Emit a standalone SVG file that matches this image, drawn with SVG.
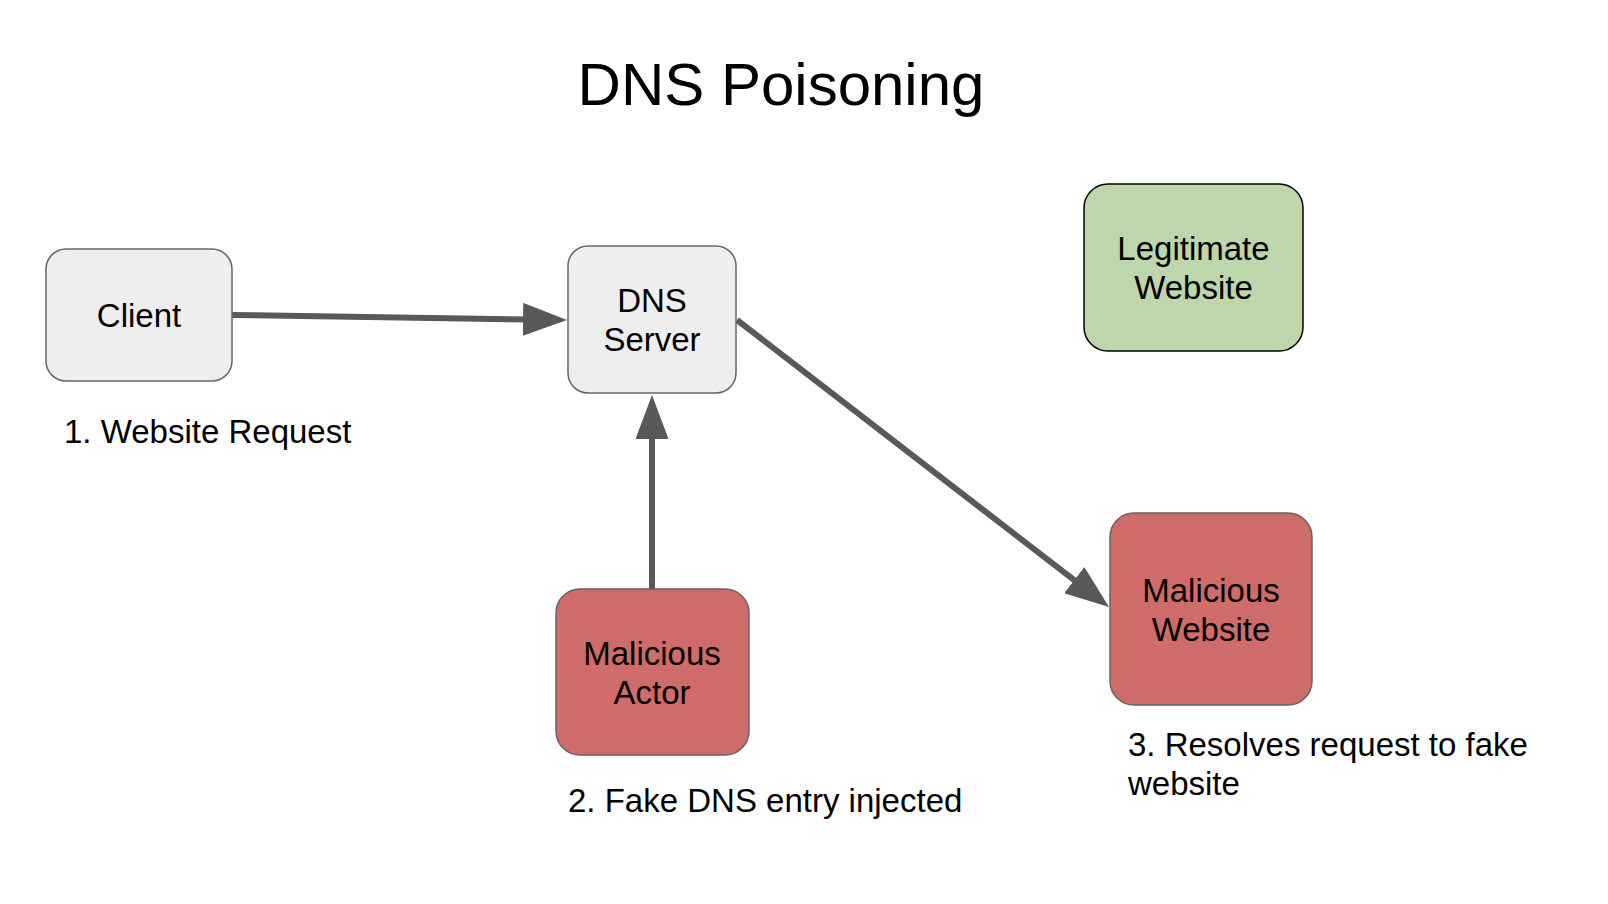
<svg xmlns="http://www.w3.org/2000/svg" width="1608" height="904" viewBox="0 0 1608 904">
  <style>
    text { font-family: "Liberation Sans", Arial, sans-serif; fill: #000000; }
    .title { font-size: 60px; text-anchor: middle; }
    .node-label { font-size: 33px; text-anchor: middle; }
    .note { font-size: 33px; }
    .gray { fill: #eeeeee; stroke: #666666; stroke-width: 1.5; }
    .red { fill: #cf6b69; stroke: #666666; stroke-width: 1.5; }
    .green { fill: #bdd6ab; stroke: #000000; stroke-width: 1.5; }
    .conn { stroke: #595959; stroke-width: 6; fill: none; marker-end: url(#arrow); }
  </style>
  <defs>
    <marker id="arrow" markerUnits="userSpaceOnUse" markerWidth="44" markerHeight="33" refX="14" refY="16.5" orient="auto">
      <path d="M0,0 L44,16.5 L0,33 z" fill="#595959"/>
    </marker>
  </defs>
  <rect width="1608" height="904" fill="#ffffff"/>

  <text class="title" x="781" y="105">DNS Poisoning</text>

  <g id="connectors">
    <line class="conn" x1="232" y1="315" x2="537" y2="319.6"/>
    <line class="conn" x1="652" y1="589" x2="652" y2="425"/>
    <line class="conn" x1="737" y1="320" x2="1085.3" y2="588.7"/>
  </g>

  <g id="client">
    <rect class="gray" x="46" y="249" width="186" height="132" rx="20" ry="20"/>
    <text class="node-label" x="139" y="327">Client</text>
  </g>

  <g id="dns-server">
    <rect class="gray" x="568" y="246" width="168" height="147" rx="20" ry="20"/>
    <text class="node-label" x="652" y="312">DNS</text>
    <text class="node-label" x="652" y="351">Server</text>
  </g>

  <g id="legitimate-website">
    <rect class="green" x="1084" y="184" width="219" height="167" rx="24" ry="24"/>
    <text class="node-label" x="1193.5" y="260">Legitimate</text>
    <text class="node-label" x="1193.5" y="299">Website</text>
  </g>

  <g id="malicious-actor">
    <rect class="red" x="556" y="589" width="193" height="166" rx="24" ry="24"/>
    <text class="node-label" x="652" y="665">Malicious</text>
    <text class="node-label" x="652" y="704">Actor</text>
  </g>

  <g id="malicious-website">
    <rect class="red" x="1110" y="513" width="202" height="192" rx="24" ry="24"/>
    <text class="node-label" x="1211" y="602">Malicious</text>
    <text class="node-label" x="1211" y="641">Website</text>
  </g>

  <g id="notes">
    <text class="note" x="64" y="443">1. Website Request</text>
    <text class="note" x="568" y="812">2. Fake DNS entry injected</text>
    <text class="note" x="1128" y="756">3. Resolves request to fake</text>
    <text class="note" x="1128" y="795">website</text>
  </g>
</svg>
